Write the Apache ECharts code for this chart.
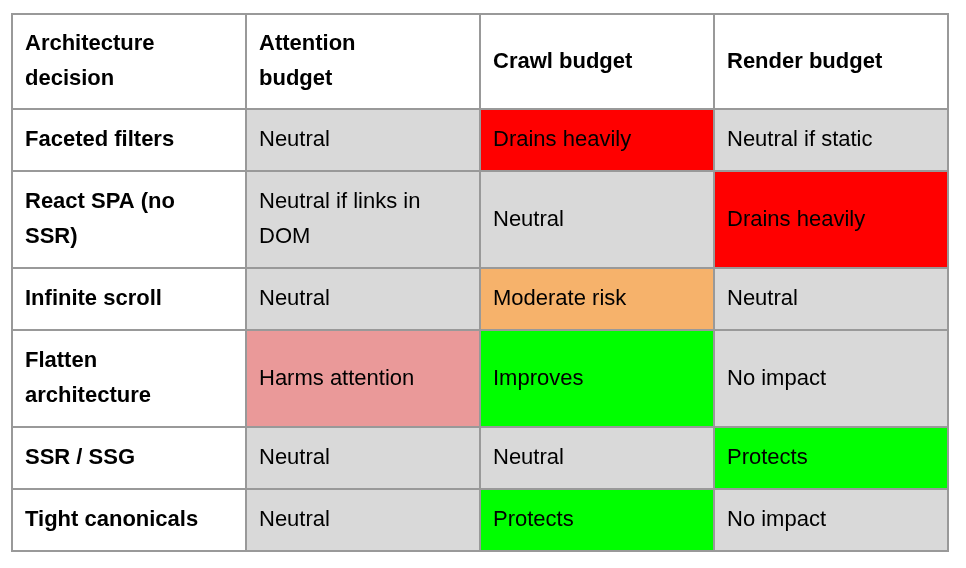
<!DOCTYPE html>
<html><head><meta charset="utf-8">
<script src="https://cdn.jsdelivr.net/npm/echarts@6/dist/echarts.min.js"></script>
<style>html,body{margin:0;background:#fff}#c{width:966px;height:568px}</style>
</head><body><div id="c"></div>
<script>
const headers = ["Architecture\ndecision", "Attention\nbudget", "Crawl budget", "Render budget"];
const rows = ["Faceted filters", "React SPA (no\nSSR)", "Infinite scroll", "Flatten\narchitecture", "SSR / SSG", "Tight canonicals"];
const attention = ["Neutral", "Neutral if links in\nDOM", "Neutral", "Harms attention", "Neutral", "Neutral"];
const crawl = ["Drains heavily", "Neutral", "Moderate risk", "Improves", "Neutral", "Protects"];
const render = ["Neutral if static", "Drains heavily", "Neutral", "No impact", "Protects", "No impact"];
const rowSpans = [95, 62, 97, 62, 97, 62, 62];

const colorMap = {
  "Drains heavily": "#ff0000", "Moderate risk": "#f6b26b", "Harms attention": "#ea9999",
  "Improves": "#00ff00", "Protects": "#00ff00"
};
const cells = [];
let y = 0;
const allRows = [headers].concat(rows.map((r, i) => [r, attention[i], crawl[i], render[i]]));
allRows.forEach((r, ri) => {
  const y0 = y, y1 = y + rowSpans[ri];
  r.forEach((t, ci) => {
    const header = ri === 0 || ci === 0;
    const fill = header ? "#ffffff" : (colorMap[t] || "#d9d9d9");
    cells.push([ci, y0, y1, t, fill, header ? 1 : 0]);
  });
  y = y1;
});
const total = y;

const chart = echarts.init(document.getElementById('c'));
chart.setOption({
  animation: false,
  grid: { left: 12, top: 14, width: 936, height: 537 },
  xAxis: { type: 'value', min: 0, max: 4, show: false },
  yAxis: { type: 'value', min: 0, max: total, inverse: true, show: false },
  series: [{
    type: 'custom',
    data: cells,
    renderItem: function (params, api) {
      const c = api.value(0), a = api.value(1), b = api.value(2);
      const p0 = api.coord([c, a]), p1 = api.coord([c + 1, b]);
      const d = cells[params.dataIndex];
      return {
        type: 'group',
        children: [
          { type: 'rect', shape: { x: p0[0], y: p0[1], width: p1[0] - p0[0], height: p1[1] - p0[1] },
            style: { fill: d[4], stroke: '#999999', lineWidth: 2 } },
          { type: 'text', x: p0[0] + 13, y: (p0[1] + p1[1]) / 2,
            style: { text: d[3], fill: '#000', font: (d[5] ? 'bold ' : '') + '22px "Liberation Sans", Arial, sans-serif',
              lineHeight: 35, verticalAlign: 'middle', align: 'left' } }
        ]
      };
    }
  }]
});
</script></body></html>
